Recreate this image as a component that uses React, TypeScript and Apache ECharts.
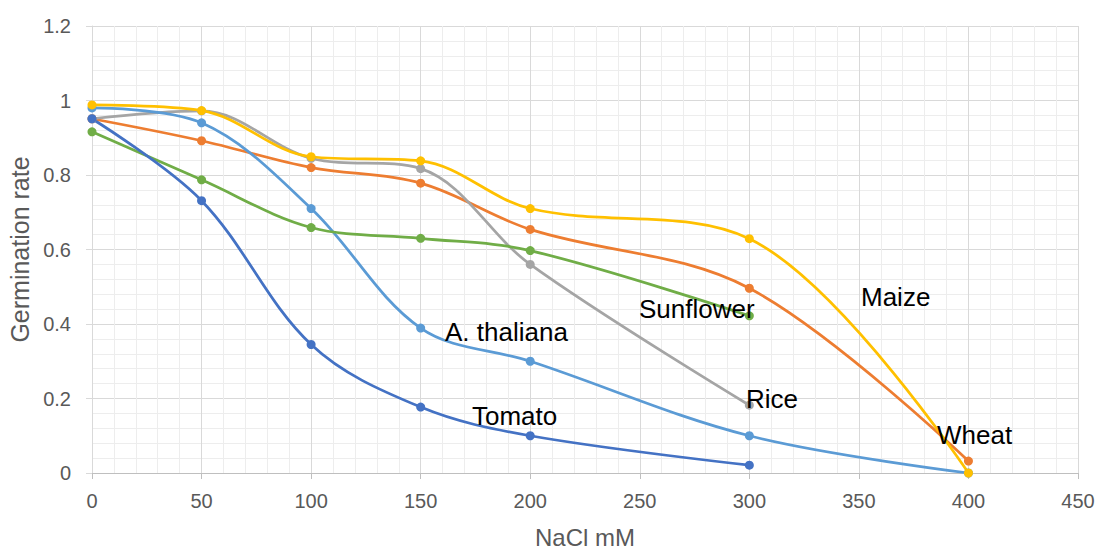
import React, { useEffect, useRef } from "react";
import * as echarts from "echarts";

const xValues = [0, 50, 100, 150, 200, 300, 400];
const seriesNames = ["Wheat", "Rice", "A. thaliana", "Sunflower", "Maize", "Tomato"];
const wheat = [0.951, 0.892, 0.82, 0.778, 0.654, 0.496, 0.032];
const rice = [0.951, 0.972, 0.845, 0.817, 0.56, 0.182, null];
const thaliana = [0.98, 0.94, 0.71, 0.389, 0.3, 0.1, 0.0];
const sunflower = [0.916, 0.787, 0.659, 0.63, 0.597, 0.422, null];
const maize = [0.988, 0.973, 0.849, 0.838, 0.71, 0.629, 0.0];
const tomato = [0.951, 0.731, 0.345, 0.177, 0.1, 0.021, null];
const seriesValues = [wheat, rice, thaliana, sunflower, maize, tomato];
const seriesColors = ["#ED7D31", "#A5A5A5", "#5B9BD5", "#70AD47", "#FFC000", "#4472C4"];

const xTitle = "NaCl mM";
const yTitle = "Germination rate";

// in-chart labels (text, left x px, center y px)
const labelTexts = ["A. thaliana", "Tomato", "Sunflower", "Rice", "Maize", "Wheat"];
const labelLeft = [445, 472, 639, 746, 861, 937];
const labelTop = [332, 416, 309, 399, 297, 435];

export default function App() {
  const ref = useRef<HTMLDivElement>(null);
  useEffect(() => {
    document.body.style.margin = "0";
    if (!ref.current) return;
    const chart = echarts.init(ref.current, null, { renderer: "svg" });
    const font = "'Liberation Sans', Arial, sans-serif";
    const series = seriesNames.map((name, i) => ({
      name,
      type: "line",
      smooth: 0.35,
      symbol: "circle",
      symbolSize: 9,
      lineStyle: { width: 2.75, color: seriesColors[i] },
      itemStyle: { color: seriesColors[i] },
      data: xValues
        .map((x, j) => [x, seriesValues[i][j]])
        .filter((d) => d[1] !== null),
    }));
    chart.setOption({
      animation: false,
      backgroundColor: "#ffffff",
      textStyle: { fontFamily: font },
      grid: { left: 92, top: 26, right: 22, bottom: 76, containLabel: false, outerBoundsMode: "none" },
      xAxis: {
        type: "value",
        min: 0,
        max: 450,
        interval: 50,
        name: xTitle,
        nameLocation: "middle",
        nameGap: 52,
        nameTextStyle: { fontSize: 24, color: "#595959", fontFamily: font },
        axisLine: { show: true, lineStyle: { color: "#BFBFBF", width: 1 } },
        axisTick: { show: true, length: 6, lineStyle: { color: "#BFBFBF" } },
        axisLabel: { fontSize: 20, color: "#595959", margin: 18, fontFamily: font },
        splitLine: { show: true, lineStyle: { color: "#D9D9D9", width: 1 } },
        minorTick: { show: false, splitNumber: 5 },
        minorSplitLine: { show: true, lineStyle: { color: "#EDEDED", width: 1 } },
      },
      yAxis: {
        type: "value",
        min: 0,
        max: 1.2,
        interval: 0.2,
        name: yTitle,
        nameLocation: "middle",
        nameGap: 57,
        nameTextStyle: { fontSize: 25, color: "#595959", fontFamily: font },
        axisLine: { show: true, lineStyle: { color: "#D9D9D9", width: 1 } },
        axisTick: { show: true, length: 6, lineStyle: { color: "#D9D9D9" } },
        axisLabel: { fontSize: 20, color: "#595959", margin: 21, fontFamily: font },
        splitLine: { show: true, lineStyle: { color: "#D9D9D9", width: 1 } },
        minorTick: { show: false, splitNumber: 5 },
        minorSplitLine: { show: true, lineStyle: { color: "#EDEDED", width: 1 } },
      },
      series,
      graphic: labelTexts.map((t, i) => ({
        type: "text",
        x: labelLeft[i],
        y: labelTop[i],
        z: 100,
        style: {
          text: t,
          fill: "#000000",
          fontSize: 26,
          fontFamily: font,
          align: "left",
          verticalAlign: "middle",
        },
      })),
    });
    return () => chart.dispose();
  }, []);
  return <div ref={ref} style={{ width: 1100, height: 549 }} />;
}
